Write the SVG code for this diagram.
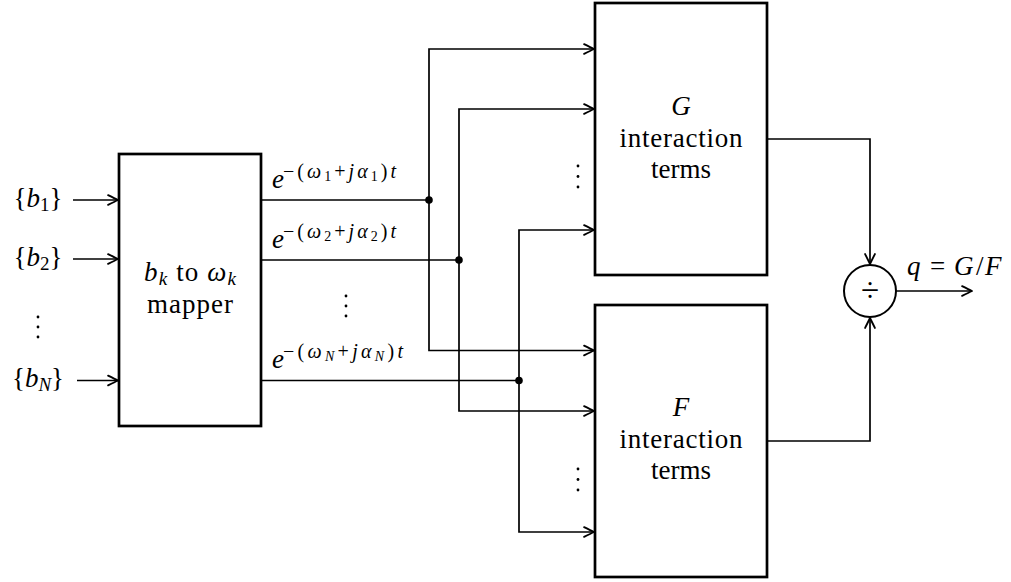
<svg xmlns="http://www.w3.org/2000/svg" width="1011" height="582" viewBox="0 0 1011 582">
<defs>
<marker id="arr" markerUnits="userSpaceOnUse" markerWidth="14" markerHeight="14" viewBox="-10 -6 12 12" refX="0" refY="0" orient="auto">
<path d="M-8.5,-4.2 Q-2.5,-1.2 0,0 Q-2.5,1.2 -8.5,4.2" fill="none" stroke="#000" stroke-width="1.6" stroke-linecap="round" stroke-linejoin="round"/>
</marker>
<style>
.box{fill:#fff;stroke:#000;stroke-width:2.7}
.ln{fill:none;stroke:#000;stroke-width:1.7}
.ar{marker-end:url(#arr)}
text{font-family:'Liberation Serif','DejaVu Serif','Times New Roman',serif;fill:#000}
.t{font-size:27px}
.m{font-style:italic}
.sup{font-size:20px}
.sub{font-size:19px}
.ssub{font-size:14px}
.dot{fill:#000}
</style>
</defs>
<rect width="1011" height="582" fill="#fff"/>

<g id="connectors">
<path class="ln ar" d="M73,200 H118"/>
<path class="ln ar" d="M73,259 H118"/>
<path class="ln ar" d="M77,380.5 H118"/>
<path class="ln" d="M261,200 H429"/>
<path class="ln" d="M261,260 H459"/>
<path class="ln" d="M261,380.5 H519"/>
<path class="ln ar" d="M429,200 V49 H594"/>
<path class="ln ar" d="M429,200 V350.5 H594"/>
<path class="ln ar" d="M459,260 V109 H594"/>
<path class="ln ar" d="M459,260 V411 H594"/>
<path class="ln ar" d="M519,380.5 V230 H594"/>
<path class="ln ar" d="M519,380.5 V532 H594"/>
<path class="ln ar" d="M767,139 H870 V264"/>
<path class="ln ar" d="M767,441 H870 V318"/>
<path class="ln ar" d="M896,291 H972"/>
<circle class="dot" cx="429" cy="200" r="3.8"/>
<circle class="dot" cx="459" cy="260" r="3.8"/>
<circle class="dot" cx="519" cy="380.5" r="3.8"/>
</g>

<g id="inputs">
<text class="t" x="38" y="207" text-anchor="middle">{<tspan class="m">b</tspan><tspan class="sub" dy="4">1</tspan><tspan dy="-4">}</tspan></text>
<text class="t" x="38" y="266" text-anchor="middle">{<tspan class="m">b</tspan><tspan class="sub" dy="4">2</tspan><tspan dy="-4">}</tspan></text>
<text class="t" x="38" y="387" text-anchor="middle">{<tspan class="m">b</tspan><tspan class="sub m" dy="4">N</tspan><tspan dy="-4">}</tspan></text>
<circle class="dot" cx="38" cy="317" r="1.4"/>
<circle class="dot" cx="38" cy="327" r="1.4"/>
<circle class="dot" cx="38" cy="337" r="1.4"/>
</g>

<g id="mapper">
<rect class="box" x="119" y="154" width="142" height="272"/>
<text class="t" x="190" y="281" text-anchor="middle" textLength="92" lengthAdjust="spacing"><tspan class="m">b</tspan><tspan class="sub m" dy="4">k</tspan><tspan dy="-4"> to </tspan><tspan class="m">ω</tspan><tspan class="sub m" dy="4">k</tspan></text>
<text class="t" x="190" y="313" text-anchor="middle" textLength="86" lengthAdjust="spacing">mapper</text>
</g>

<g id="labels">
<text class="t m" x="272" y="188">e</text>
<text class="sup" x="283" y="178" textLength="113" lengthAdjust="spacing">−(<tspan class="m">ω</tspan><tspan class="ssub" dy="3">1</tspan><tspan dy="-3">+</tspan><tspan class="m">jα</tspan><tspan class="ssub" dy="3">1</tspan><tspan dy="-3">)</tspan><tspan class="m">t</tspan></text>
<text class="t m" x="272" y="248">e</text>
<text class="sup" x="283" y="238" textLength="113" lengthAdjust="spacing">−(<tspan class="m">ω</tspan><tspan class="ssub" dy="3">2</tspan><tspan dy="-3">+</tspan><tspan class="m">jα</tspan><tspan class="ssub" dy="3">2</tspan><tspan dy="-3">)</tspan><tspan class="m">t</tspan></text>
<text class="t m" x="272" y="368">e</text>
<text class="sup" x="283" y="358" textLength="120" lengthAdjust="spacing">−(<tspan class="m">ω</tspan><tspan class="ssub m" dy="3">N</tspan><tspan dy="-3">+</tspan><tspan class="m">jα</tspan><tspan class="ssub m" dy="3">N</tspan><tspan dy="-3">)</tspan><tspan class="m">t</tspan></text>
<circle class="dot" cx="346" cy="296" r="1.4"/>
<circle class="dot" cx="346" cy="306" r="1.4"/>
<circle class="dot" cx="346" cy="316" r="1.4"/>
</g>

<g id="g-box">
<rect class="box" x="595" y="3" width="172" height="272"/>
<text class="t m" x="681" y="115" text-anchor="middle">G</text>
<text class="t" x="681" y="147" text-anchor="middle" textLength="123" lengthAdjust="spacing">interaction</text>
<text class="t" x="681" y="178" text-anchor="middle">terms</text>
<circle class="dot" cx="578" cy="166" r="1.4"/>
<circle class="dot" cx="578" cy="176.5" r="1.4"/>
<circle class="dot" cx="578" cy="187" r="1.4"/>
</g>

<g id="f-box">
<rect class="box" x="595" y="305" width="172" height="272"/>
<text class="t m" x="681" y="416" text-anchor="middle">F</text>
<text class="t" x="681" y="448" text-anchor="middle" textLength="123" lengthAdjust="spacing">interaction</text>
<text class="t" x="681" y="479" text-anchor="middle">terms</text>
<circle class="dot" cx="578" cy="469" r="1.4"/>
<circle class="dot" cx="578" cy="479.5" r="1.4"/>
<circle class="dot" cx="578" cy="490" r="1.4"/>
</g>

<g id="divider">
<circle cx="870" cy="291" r="26" fill="#fff" stroke="#000" stroke-width="2"/>
<text x="870" y="300.5" text-anchor="middle" font-size="33">÷</text>
</g>

<g id="output">
<text class="t" y="275"><tspan class="m" x="907">q</tspan><tspan x="930">=</tspan><tspan class="m" x="954">G</tspan><tspan x="976">/</tspan><tspan class="m" x="985">F</tspan></text>
</g>
</svg>
